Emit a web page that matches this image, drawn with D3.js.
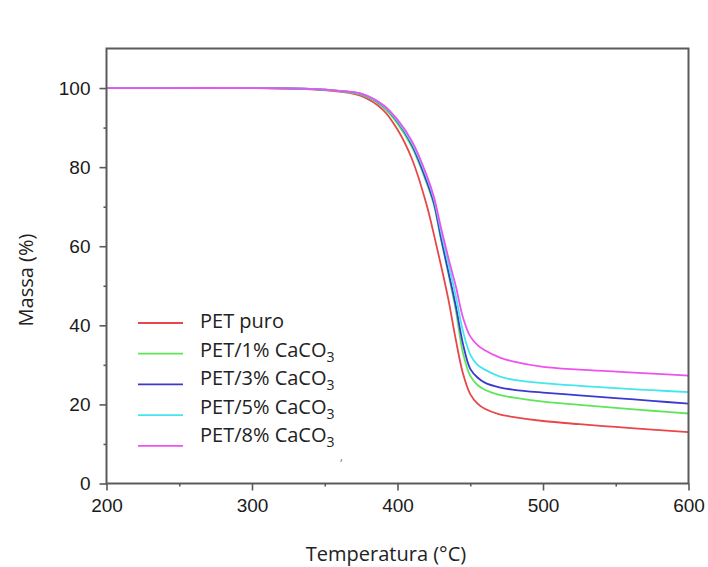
<!DOCTYPE html>
<html>
<head>
<meta charset="utf-8">
<script src="https://cdn.jsdelivr.net/npm/d3@7"></script>
<style>
  body { margin: 0; background: #fff; }
  .tick text { font-family: "Liberation Sans", Arial, sans-serif; font-size: 19px; fill: #1a1a1a; }
  .lbl { font-family: "Open Sans", sans-serif; font-size: 20px; fill: #222; }
</style>
</head>
<body>
<div id="chart"></div>
<script>
// temperature grid (°C) shared by every curve
const temps = [200, 250, 300, 340, 360, 375, 390, 400, 410, 420, 425, 430, 435, 440, 445, 450, 455, 460, 470, 480, 500, 525, 550, 575, 600]

// mass (%)
const petPuro = [100, 100, 100, 99.7, 99.1, 98.0, 94.5, 89.5, 82.0, 70.5, 63.0, 55.0, 46.5, 36.5, 27.8, 22.6, 20.2, 18.9, 17.5, 16.8, 15.8, 15.0, 14.3, 13.6, 13.0]
const pet1 = [100, 100, 100, 99.8, 99.2, 98.3, 95.2, 91.0, 85.0, 76.0, 70.5, 61.5, 53.0, 44.0, 33.0, 27.2, 24.9, 23.7, 22.4, 21.7, 20.7, 19.9, 19.1, 18.4, 17.7]
const pet3 = [100, 100, 100, 99.8, 99.3, 98.5, 95.5, 91.5, 85.5, 76.5, 71.0, 62.0, 53.5, 45.0, 35.3, 29.0, 26.8, 25.5, 24.3, 23.7, 23.0, 22.3, 21.6, 20.9, 20.2]
const pet5 = [100, 100, 100, 99.8, 99.3, 98.5, 95.6, 91.7, 86.0, 77.5, 72.0, 63.5, 55.5, 47.5, 38.5, 32.6, 30.0, 28.8, 27.1, 26.2, 25.4, 24.7, 24.1, 23.6, 23.1]
const pet8 = [100, 100, 100, 99.8, 99.3, 98.6, 95.8, 92.0, 86.5, 78.0, 72.5, 64.5, 57.0, 50.0, 42.0, 37.2, 35.0, 33.7, 31.9, 30.8, 29.5, 28.8, 28.3, 27.8, 27.3]

const seriesNames = ["PET puro", "PET/1% CaCO", "PET/3% CaCO", "PET/5% CaCO", "PET/8% CaCO"]
const seriesSub = ["", "3", "3", "3", "3"]
const seriesColors = ["#e8474a", "#5ee65a", "#3a3ad2", "#44e6ee", "#ee52ee"]

const xTicks = [200, 300, 400, 500, 600]
const xMinor = [250, 350, 450, 550]
const yTicks = [0, 20, 40, 60, 80, 100]
const yMinor = [10, 30, 50, 70, 90]

// layout
const W = 708, H = 567
const mLeft = 106.5, mRight = 688.5, mTop = 48.5, mBottom = 483.5

const svg = d3.select("#chart").append("svg")
  .attr("width", W)
  .attr("height", H)

const x = d3.scaleLinear().domain([200, 600]).range([mLeft, mRight])
const y = d3.scaleLinear().domain([0, 110]).range([mBottom, mTop])

const allSeries = [petPuro, pet1, pet3, pet5, pet8]

// curves
const line = d3.line()
  .x((d, i) => x(temps[i]))
  .y(d => y(d))
  .curve(d3.curveCatmullRom.alpha(0.5))

svg.selectAll("path.curve")
  .data(allSeries)
  .enter()
  .append("path")
  .attr("class", "curve")
  .attr("d", d => line(d))
  .attr("fill", "none")
  .attr("stroke", (d, i) => seriesColors[i])
  .attr("stroke-width", 1.8)

// frame
svg.append("rect")
  .attr("x", mLeft)
  .attr("y", mTop)
  .attr("width", mRight - mLeft)
  .attr("height", mBottom - mTop)
  .attr("fill", "none")
  .attr("stroke", "#5a5a5a")
  .attr("stroke-width", 2)

// axes (major + minor ticks, outward)
const styleAxis = g => {
  g.select(".domain").remove()
  g.selectAll(".tick line").attr("stroke", "#5a5a5a").attr("stroke-width", 1.6)
}

svg.append("g")
  .attr("transform", "translate(0," + mBottom + ")")
  .call(d3.axisBottom(x).tickValues(xTicks).tickSize(7).tickPadding(8).tickFormat(d3.format("d")))
  .call(styleAxis)

svg.append("g")
  .attr("transform", "translate(0," + mBottom + ")")
  .call(d3.axisBottom(x).tickValues(xMinor).tickSize(3).tickFormat(""))
  .call(styleAxis)

svg.append("g")
  .attr("transform", "translate(" + mLeft + ",0)")
  .call(d3.axisLeft(y).tickValues(yTicks).tickSize(7).tickPadding(9).tickFormat(d3.format("d")))
  .call(styleAxis)

svg.append("g")
  .attr("transform", "translate(" + mLeft + ",0)")
  .call(d3.axisLeft(y).tickValues(yMinor).tickSize(3).tickFormat(""))
  .call(styleAxis)

// axis titles
svg.append("text")
  .attr("class", "lbl")
  .attr("x", 386)
  .attr("y", 561)
  .attr("text-anchor", "middle")
  .text("Temperatura (°C)")

svg.append("text")
  .attr("class", "lbl")
  .attr("transform", "translate(33,280) rotate(-90)")
  .attr("text-anchor", "middle")
  .text("Massa (%)")

// legend
const leg = svg.append("g")
seriesNames.forEach(function(name, i){
  leg.append("line")
     .attr("x1", 138).attr("x2", 183)
     .attr("y1", 323 + i*30.7).attr("y2", 323 + i*30.7)
     .attr("stroke", seriesColors[i])
     .attr("stroke-width", 1.8)
  const t = leg.append("text")
     .attr("class", "lbl")
     .attr("x", 200)
     .attr("y", 328 + i*28.5)
     .text(name)
  if (seriesSub[i]) {
    t.append("tspan")
     .attr("dy", 5)
     .style("font-size", "14px")
     .text(seriesSub[i])
  }
})

// stray mark in the original scan
svg.append("text")
  .attr("x", 340)
  .attr("y", 461)
  .style("font-family", "Open Sans")
  .style("font-size", "11px")
  .attr("fill", "#666")
  .text(",")
</script>
</body>
</html>
